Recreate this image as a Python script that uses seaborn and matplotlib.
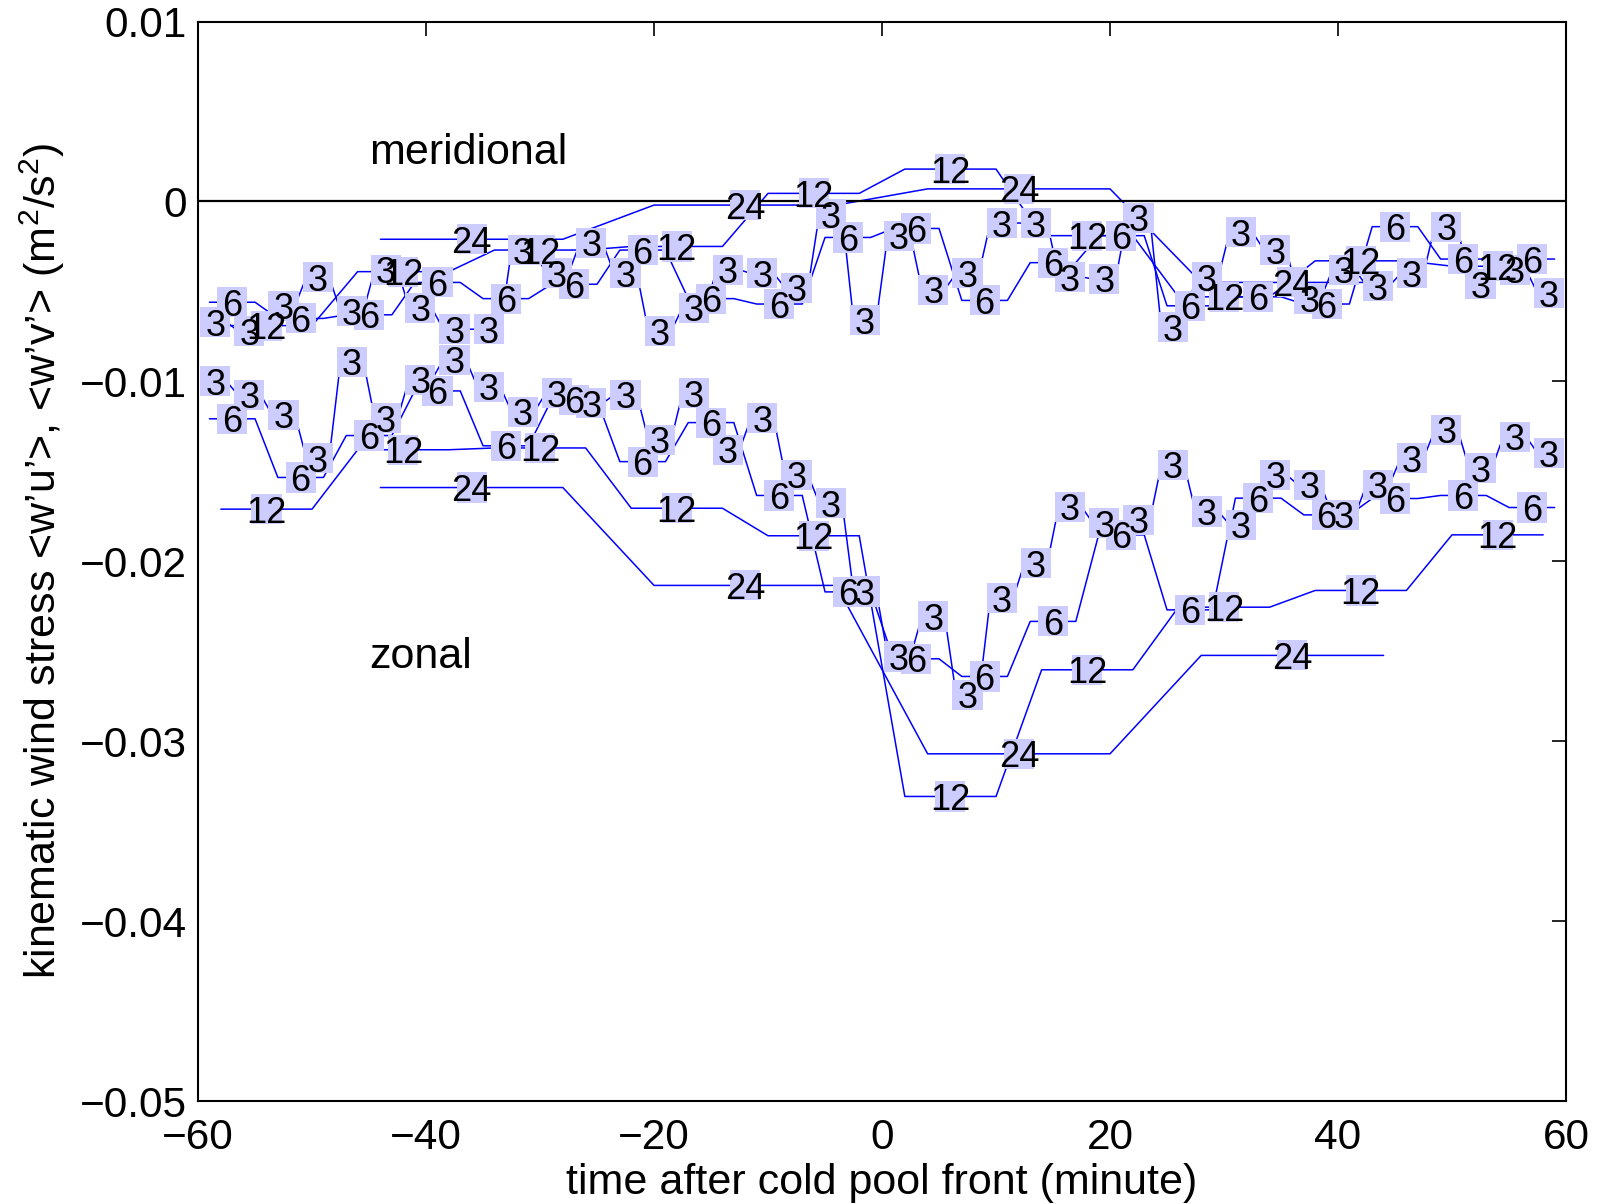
import numpy as np
import pandas as pd
import matplotlib
matplotlib.use("Agg")
import matplotlib.pyplot as plt
import seaborn as sns

# window centres (minutes after the cold pool front) for each averaging length
centres_3 = np.arange(-58.5, 60, 3)
centres_6 = np.arange(-57, 60, 6)
centres_12 = np.arange(-54, 60, 12)
centres_24 = np.arange(-36, 48, 24)

# meridional stress <w'v'> (m2/s2)
merid_3 = [-0.0067, -0.0072, -0.0058, -0.0042, -0.0061, -0.0038, -0.0059, -0.0071,
           -0.0071, -0.0027, -0.0040, -0.0023, -0.0040, -0.0072, -0.0059, -0.0038,
           -0.0040, -0.0048, -0.0007, -0.0066, -0.0019, -0.0049, -0.0040, -0.0012,
           -0.0012, -0.0042, -0.0043, -0.0009, -0.0070, -0.0042, -0.0017, -0.0027,
           -0.0054, -0.0038, -0.0047, -0.0040, -0.0014, -0.0046, -0.0038, -0.0051]
merid_6 = [-0.0056, -0.0065, -0.0063, -0.0045, -0.0054, -0.0046, -0.0027, -0.0054,
           -0.0057, -0.0020, -0.0015, -0.0055, -0.0034, -0.0019, -0.0058, -0.0053,
           -0.0057, -0.0014, -0.0032, -0.0032]
merid_12 = [-0.0069, -0.0039, -0.0027, -0.0025, 0.00045, 0.0018, -0.0019, -0.0053,
            -0.0033, -0.0036]
merid_24 = [-0.0021, -0.0002, 0.0007, -0.0045]

# zonal stress <w'u'> (m2/s2)
zonal_3 = [-0.0100, -0.01075, -0.01186, -0.01427, -0.0089, -0.01205, -0.00992, -0.0088,
           -0.01029, -0.01168, -0.01066, -0.01121, -0.01075, -0.01325, -0.01066, -0.01381,
           -0.01205, -0.0152, -0.01677, -0.02168, -0.02529, -0.02307, -0.02742, -0.02205,
           -0.0201, -0.01696, -0.01788, -0.01769, -0.01464, -0.01723, -0.01797, -0.0152,
           -0.01575, -0.01742, -0.01575, -0.01427, -0.0127, -0.01482, -0.01307, -0.01399]
zonal_6 = [-0.01208, -0.01534, -0.01301, -0.01053, -0.01358, -0.01103, -0.01446, -0.01229,
           -0.01634, -0.0217, -0.02542, -0.0264, -0.02334, -0.01853, -0.0227, -0.01649,
           -0.01742, -0.01651, -0.01634, -0.01701]
zonal_12 = [-0.0171, -0.0138, -0.0137, -0.01705, -0.01858, -0.03307, -0.02603, -0.02255,
            -0.02162, -0.01853]
zonal_24 = [-0.0159, -0.02134, -0.0307, -0.02523]

x_ticks = [-60, -40, -20, 0, 20, 40, 60]
x_tick_labels = ["\u221260", "\u221240", "\u221220", "0", "20", "40", "60"]
y_ticks = [-0.05, -0.04, -0.03, -0.02, -0.01, 0, 0.01]
y_tick_labels = ["\u22120.05", "\u22120.04", "\u22120.03", "\u22120.02", "\u22120.01", "0", "0.01"]

series = [
    ("merid", 3, centres_3, merid_3), ("merid", 6, centres_6, merid_6),
    ("merid", 12, centres_12, merid_12), ("merid", 24, centres_24, merid_24),
    ("zonal", 3, centres_3, zonal_3), ("zonal", 6, centres_6, zonal_6),
    ("zonal", 12, centres_12, zonal_12), ("zonal", 24, centres_24, zonal_24),
]

# each window mean is held over the middle two thirds of its window
rows = []
labels = []
for comp, win, centres, vals in series:
    for c, v in zip(centres, vals):
        rows.append((f"{comp}{win}", c - win / 3, v))
        rows.append((f"{comp}{win}", c + win / 3, v))
        labels.append((c, v, str(win)))
df = pd.DataFrame(rows, columns=["series", "time", "stress"])
lab = pd.DataFrame(labels, columns=["time", "stress", "text"])

sns.set_theme(style="white")
plt.rcParams["font.family"] = ["Liberation Sans", "DejaVu Sans"]
plt.rcParams["mathtext.fontset"] = "custom"
plt.rcParams["mathtext.rm"] = "Liberation Sans"
plt.rcParams["text.color"] = "black"
plt.rcParams["axes.labelcolor"] = "black"

fig = plt.figure(figsize=(16.05, 12.04), dpi=100)
ax = fig.add_axes([0.1234, 0.0855, 0.8523, 0.8966])

sns.lineplot(data=df, x="time", y="stress", units="series", estimator=None,
             sort=False, color="blue", lw=1.1, ax=ax, legend=False)
ax.axhline(0, color="black", lw=1.6, zorder=2)

ax.scatter(lab["time"], lab["stress"], marker="s", s=470, color="#ccccff",
           edgecolors="none", zorder=3)
for _, r in lab.iterrows():
    ax.text(r["time"], r["stress"], r["text"], ha="center", va="center_baseline",
            fontsize=26, color="black", zorder=4)

ax.text(-45, 0.0027, "meridional", fontsize=31, ha="left", va="center")
ax.text(-45, -0.0253, "zonal", fontsize=31, ha="left", va="center")

ax.set_xlim(-60, 60)
ax.set_ylim(-0.05, 0.01)
ax.set_xticks(x_ticks)
ax.set_xticklabels(x_tick_labels)
ax.set_yticks(y_ticks)
ax.set_yticklabels(y_tick_labels)
ax.tick_params(direction="in", length=10, width=1.2, top=True, right=True,
               labelsize=30.5, colors="black")
ax.tick_params(axis="x", pad=12)
ax.tick_params(axis="y", pad=8)
for sp in ax.spines.values():
    sp.set_color("black")
    sp.set_linewidth(1.5)

ax.set_xlabel("time after cold pool front (minute)", fontsize=31, labelpad=4)
ax.set_ylabel("kinematic wind stress <w\u2019u\u2019>, <w\u2019v\u2019> (m$^2$/s$^2$)",
              fontsize=31, labelpad=9)

fig.savefig("out.png", dpi=100)
